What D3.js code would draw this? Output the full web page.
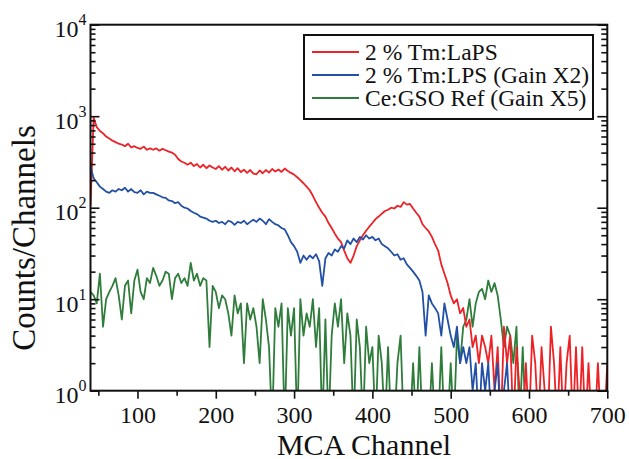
<!DOCTYPE html>
<html>
<head>
<meta charset="utf-8">
<script src="https://cdn.jsdelivr.net/npm/d3@7"></script>
<style>
body { margin: 0; background: #fff; }
svg text { font-family: "Liberation Serif", "Times New Roman", serif; fill: #111; }
</style>
</head>
<body>
<div id="chart"></div>
<script>
// MCA channel grid (every 4th channel)
var channels = d3.range(40, 701, 4);

// 2 % Tm:LaPS
var lapsCounts = [
	105, 960, 760, 690, 650, 600, 570, 540, 520, 500,
	490, 470, 500, 455, 470, 450, 440, 465, 430, 445,
	430, 445, 420, 440, 425, 410, 400, 380, 340, 320,
	310, 295, 310, 285, 300, 275, 295, 270, 290, 275,
	265, 285, 260, 280, 255, 275, 250, 270, 245, 260,
	240, 258, 236, 232, 255, 238, 258, 242, 265, 248,
	262, 246, 268, 252, 240, 230, 215, 200, 185, 170,
	155, 135, 115, 100, 88, 80, 68, 60, 52, 46,
	42, 34, 28, 25, 30, 38, 44, 50, 56, 62,
	68, 75, 80, 86, 92, 95, 100, 98, 105, 102,
	115, 108, 110, 98, 88, 80, 66, 60, 55, 48,
	40, 34, 24, 19, 15, 11, 9, 10, 7, 8,
	5, 6, 3, 4, 2, 4, 3, 2, 4, 1,
	3, 0, 5, 2, 4, 0, 3, 1, 0, 2,
	0, 4, 2, 0, 3, 1, 0, 5, 2, 0,
	3, 0, 2, 4, 0, 3, 0, 3, 0, 2,
	0, 0, 2, 0, 0, 2
];

// 2 % Tm:LPS (Gain X2)
var lpsCounts = [
	280, 210, 190, 170, 160, 150, 145, 155, 150, 160,
	155, 165, 150, 160, 148, 145, 155, 140, 150, 145,
	145, 140, 135, 130, 128, 120, 118, 112, 115, 105,
	100, 98, 92, 88, 85, 80, 78, 76, 72, 70,
	72, 68, 70, 66, 72, 70, 65, 70, 68, 72,
	66, 70, 74, 70, 76, 72, 66, 75, 70, 66,
	64, 60, 58, 50, 42, 38, 33, 25, 30, 27,
	30, 28, 31, 26, 14, 28, 32, 30, 35, 33,
	38, 36, 44, 40, 46, 42, 48, 45, 50, 46,
	48, 44, 46, 40, 38, 36, 33, 30, 31, 27,
	28, 24, 22, 20, 18, 16, 12, 4, 11, 9,
	8, 7, 4, 9, 6, 4, 3, 5, 2, 3,
	2, 3, 1, 2, 0, 2, 1, 2, 0, 1,
	2, 0, 1, 2, 0, 0, 0, 0, 0, 0,
	0, 0, 0, 0, 0, 0, 0, 0, 0, 0,
	0, 0, 0, 0, 0, 0, 0, 0, 0, 0,
	0, 0, 0, 0, 0, 0
];

// Ce:GSO Ref (Gain X5)
var gsoCounts = [
	12, 11, 9, 19, 5, 10, 12, 14, 17, 11,
	6, 14, 16, 7, 16, 21, 12, 10, 17, 15,
	22, 18, 14, 16, 20, 19, 10, 17, 19, 15,
	17, 14, 25, 16, 19, 14, 17, 16, 3, 14,
	12, 8, 11, 10, 7, 4, 11, 7, 9, 2,
	9, 6, 8, 5, 2, 10, 6, 3, 0, 8,
	5, 9, 0, 8, 4, 8, 0, 10, 4, 7,
	5, 10, 3, 8, 0, 6, 0, 4, 9, 5,
	10, 2, 7, 4, 0, 6, 3, 0, 5, 2,
	3, 0, 4, 2, 0, 3, 0, 0, 2, 4,
	0, 0, 0, 2, 0, 3, 0, 0, 0, 2,
	0, 0, 3, 0, 0, 2, 0, 4, 2, 5,
	6, 10, 5, 9, 12, 13, 10, 16, 12, 15,
	11, 6, 3, 5, 4, 2, 5, 0, 3, 0,
	0, 0, 0, 0, 0, 0, 0, 0, 0, 0,
	0, 0, 0, 0, 0, 0, 0, 0, 0, 0,
	0, 0, 0, 0, 0, 0
];

var legendLabels = ["2 % Tm:LaPS", "2 % Tm:LPS (Gain X2)", "Ce:GSO Ref (Gain X5)"];
var seriesColors = ["#ec2227", "#2250a6", "#2f7d3b"];
var xTicks = [100, 200, 300, 400, 500, 600, 700];
var xMinorTicks = [50, 150, 250, 350, 450, 550, 650];
var yExponents = [0, 1, 2, 3, 4];

// set the dimensions and margins of the graph
var margin = {top: 24.7, right: 21.7, bottom: 68.3, left: 90.5},
	width = 629 - margin.left - margin.right,
	height = 459 - margin.top - margin.bottom;

var x = d3.scaleLinear().domain([40, 700]).range([0, width]);
var y = d3.scaleLog().domain([1, 1e4]).range([height, 0]);

var yMajor = yExponents.map(function(e) { return Math.pow(10, e); });
var yMinor = [];
yExponents.slice(0, -1).forEach(function(e) {
	for (var k = 2; k < 10; k++) yMinor.push(k * Math.pow(10, e));
});

var root = d3.select("#chart").append("svg")
	.attr("width", 629)
	.attr("height", 459);

var svg = root.append("g")
	.attr("transform", "translate(" + margin.left + "," + margin.top + ")");

svg.append("clipPath").attr("id", "plot-clip")
	.append("rect")
	.attr("width", width)
	.attr("height", height);

// zero counts fall below the axis and get clipped
var valueline = d3.line()
	.x(function(d, i) { return x(channels[i]); })
	.y(function(d) { return y(Math.max(d, 0.4)); });

var plot = svg.append("g").attr("clip-path", "url(#plot-clip)");
[gsoCounts, lapsCounts, lpsCounts].forEach(function(s, j) {
	var c = [seriesColors[2], seriesColors[0], seriesColors[1]][j];
	plot.append("path")
		.datum(s)
		.attr("fill", "none")
		.attr("stroke", c)
		.attr("stroke-width", 1.8)
		.attr("stroke-linejoin", "round")
		.attr("d", valueline);
});

function styleAxis(g) {
	g.select(".domain").remove();
	g.selectAll(".tick line").attr("stroke", "#111").attr("stroke-width", 1.6);
	g.attr("font-family", null).attr("font-size", 24);
}

// bottom axis
svg.append("g")
	.attr("transform", "translate(0," + height + ")")
	.call(d3.axisBottom(x).tickValues(xMinorTicks).tickSize(5).tickFormat(""))
	.call(styleAxis);
svg.append("g")
	.attr("transform", "translate(0," + height + ")")
	.call(d3.axisBottom(x).tickValues(xTicks).tickSize(8).tickPadding(7).tickFormat(d3.format("d")))
	.call(styleAxis);

// left axis, ticks inside
svg.append("g")
	.call(d3.axisLeft(y).tickValues(yMinor).tickSizeInner(-5).tickSizeOuter(0).tickFormat(""))
	.call(styleAxis);
var yAxisG = svg.append("g")
	.call(d3.axisLeft(y).tickValues(yMajor).tickSizeInner(-9).tickSizeOuter(0).tickPadding(4))
	.call(styleAxis);
yAxisG.selectAll(".tick text")
	.attr("dy", 12)
	.text(null)
	.each(function(d) {
		var t = d3.select(this);
		t.append("tspan").text("10");
		t.append("tspan").attr("dy", -12).attr("font-size", 16).text(Math.round(Math.log10(d)));
	});

// right axis, ticks inside
svg.append("g")
	.attr("transform", "translate(" + width + ",0)")
	.call(d3.axisRight(y).tickValues(yMinor).tickSizeInner(-6).tickSizeOuter(0).tickFormat(""))
	.call(styleAxis);
svg.append("g")
	.attr("transform", "translate(" + width + ",0)")
	.call(d3.axisRight(y).tickValues(yMajor).tickSizeInner(-10).tickSizeOuter(0).tickFormat(""))
	.call(styleAxis);

// frame
svg.append("rect")
	.attr("width", width)
	.attr("height", height)
	.attr("fill", "none")
	.attr("stroke", "#111")
	.attr("stroke-width", 2);

// axis titles
root.append("text")
	.attr("x", 364)
	.attr("y", 455)
	.attr("text-anchor", "middle")
	.attr("font-size", 30)
	.text("MCA Channel");

root.append("text")
	.attr("transform", "translate(35,238) rotate(-90)")
	.attr("text-anchor", "middle")
	.attr("font-size", 33)
	.text("Counts/Channels");

// legend
var legend = root.append("g").attr("transform", "translate(304,35)");
legend.append("rect")
	.attr("width", 289)
	.attr("height", 84)
	.attr("fill", "#fff")
	.attr("stroke", "#111")
	.attr("stroke-width", 2);
legendLabels.forEach(function(label, i) {
	var ly = 17 + i * 23;
	legend.append("line")
		.attr("x1", 8).attr("x2", 55)
		.attr("y1", ly).attr("y2", ly)
		.attr("stroke", seriesColors[i])
		.attr("stroke-width", 2);
	legend.append("text")
		.attr("x", 61)
		.attr("y", ly + 8)
		.attr("font-size", 23.5)
		.text(label);
});
</script>
</body>
</html>
